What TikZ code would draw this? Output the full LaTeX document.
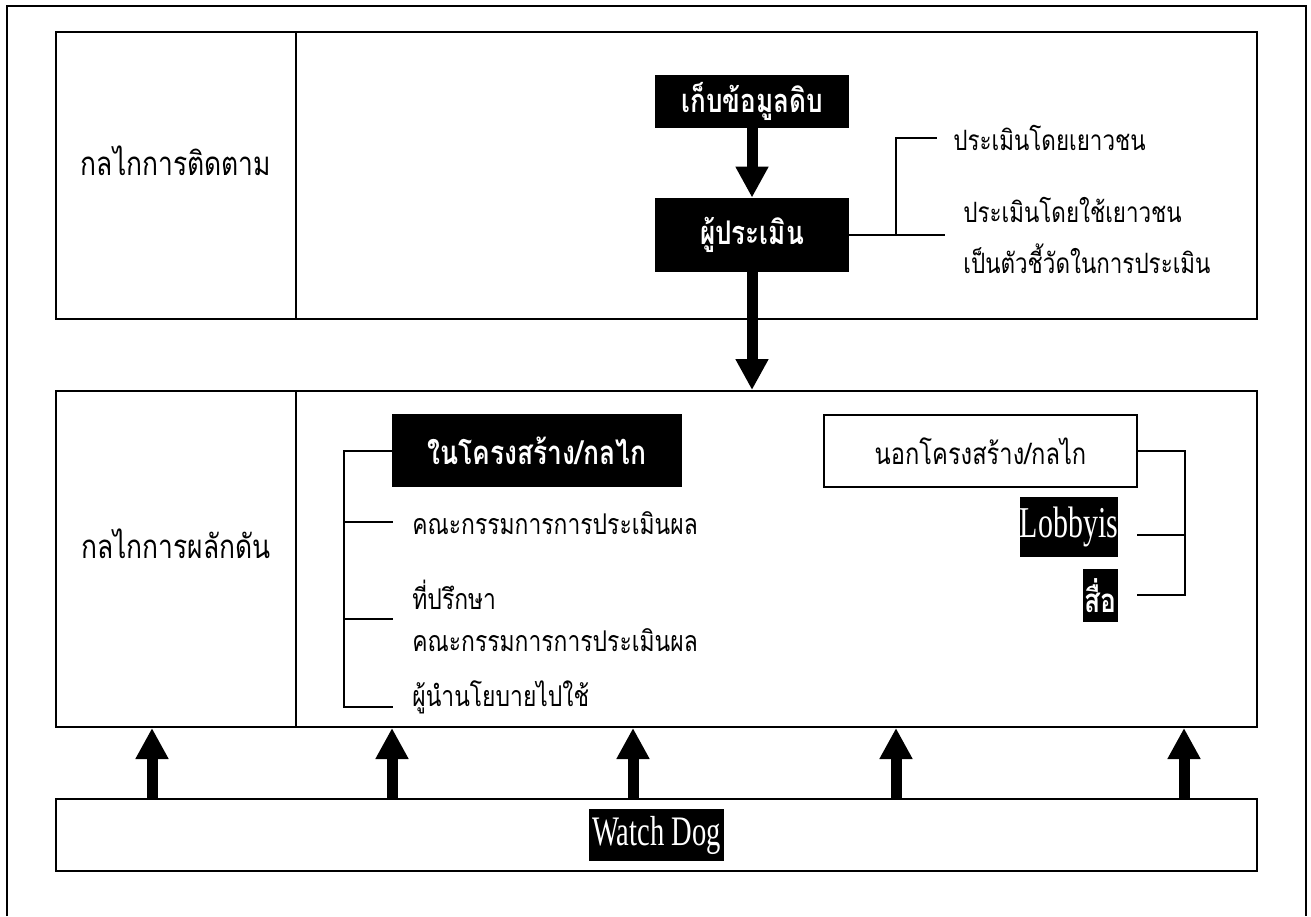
\documentclass[tikz,border=0pt]{standalone}
\usepackage{fontspec}
\setmainfont{Liberation Serif}
\newfontfamily\thai[Script=Thai,FakeStretch=0.8]{Loma}
\newfontfamily\latc[FakeStretch=0.68]{Liberation Serif}
\usetikzlibrary{arrows.meta,fit}
\begin{document}
\begin{tikzpicture}[x=0.5pt,y=-0.5pt,
  panel/.style={draw, line width=1pt, inner sep=0pt},
  sidelabel/.style={font=\thai\fontsize{16.5}{20}\selectfont},
  blackbox/.style={fill=black, text=white, inner sep=0pt, font=\thai\bfseries\fontsize{16.3}{20}\selectfont},
  whitebox/.style={draw, line width=1pt, inner sep=0pt, font=\thai\fontsize{14.8}{18}\selectfont},
  hl/.style={fill=black, text=white, inner sep=0pt},
  item/.style={anchor=west, inner sep=0pt, align=left, font=\thai\fontsize{14.3}{18}\selectfont},
  conn/.style={line width=1pt},
  bigarrow/.style={line width=5.5pt, -{Triangle[width=15.5pt,length=15.5pt]}}
]
\useasboundingbox (0,0) rectangle (1311,916);
% outer frame
\draw[line width=1pt] (7,916) -- (7,6) -- (1306,6) -- (1306,916);

% top panel
\node[panel, sidelabel, fit={(56,32)(296,319)}] (topL) {กลไกการติดตาม};
\node[panel, fit={(296,32)(1257,319)}] (topR) {};
% middle panel
\node[panel, sidelabel, fit={(56,391)(296,727)}] (midL) {กลไกการผลักดัน};
\node[panel, fit={(296,391)(1257,727)}] (midR) {};
% watch dog panel
\node[panel, fit={(56,799)(1257,871)}] (wd) {};
\node[hl, minimum width=67.5pt, minimum height=26pt, font=\latc\fontsize{21}{24}\selectfont] (wdt) at (656.5,835) {Watch Dog};

% monitoring flow
\node[blackbox, minimum width=97pt, minimum height=26.5pt] (b1) at (752,101.5) {เก็บข้อมูลดิบ};
\node[blackbox, minimum width=97pt, minimum height=37pt] (b2) at (752,235) {ผู้ประเมิน};
\draw[bigarrow] (b1.south) -- (b2.north);
\draw[bigarrow] (b2.south) -- (b2.south |- midR.north);

\node[item, font=\thai\fontsize{14}{18}\selectfont] (r1) at (953,138) {ประเมินโดยเยาวชน};
\node[item, font=\thai\fontsize{14}{25.5}\selectfont] (r2) at (963,235) {ประเมินโดยใช้เยาวชน\\เป็นตัวชี้วัดในการประเมิน};
\coordinate (rj) at (896,235);
\coordinate (rt) at (896,138);
\coordinate (r1e) at (937,138);
\coordinate (r2e) at (945,235);
\draw[conn] (b2.east) -- (r2e);
\draw[conn] (rj) -- (rt) -- (r1e);

% inside structure
\node[blackbox, minimum width=145pt, minimum height=36.5pt, font=\thai\bfseries\fontsize{16.5}{20}\selectfont] (inb) at (537,450.5) {ในโครงสร้าง/กลไก};
\node[item] (i1) at (412,523) {คณะกรรมการการประเมินผล};
\node[item, font=\thai\fontsize{14.3}{21}\selectfont] (i2) at (412,616) {ที่ปรึกษา\\คณะกรรมการการประเมินผล};
\node[item] (i3) at (412,697) {ผู้นำนโยบายไปใช้};
\coordinate (L0) at (344,450.5);
\coordinate (L3) at (344,707);
\coordinate (L1) at (344,522);
\coordinate (L2) at (344,619);
\coordinate (E1) at (393,522);
\coordinate (E2) at (393,619);
\coordinate (E3) at (393,707);
\draw[conn] (inb.west) -- (L0) -- (L3) -- (E3);
\draw[conn] (L1) -- (E1);
\draw[conn] (L2) -- (E2);

% outside structure
\node[whitebox, minimum width=156.5pt, minimum height=36pt] (outb) at (980.5,451) {นอกโครงสร้าง/กลไก};
\node[hl, minimum width=49pt, minimum height=30pt, font=\latc\fontsize{22}{24}\selectfont] (lob) at (1069,527) {Lobbyis};
\node[hl, minimum width=17.5pt, minimum height=26.5pt, font=\thai\bfseries\fontsize{16.5}{20}\selectfont] (sue) at (1100.5,595.5) {สื่อ};
\coordinate (R0) at (1185,451);
\coordinate (R1) at (1185,535);
\coordinate (R2) at (1185,595);
\coordinate (F1) at (1137,535);
\coordinate (F2) at (1137,595);
\draw[conn] (outb.east) -- (R0) -- (R2) -- (F2);
\draw[conn] (R1) -- (F1);

% watch dog arrows
\foreach \x/\n in {152/a1,392/a2,633/a3,896/a4,1184/a5}{
  \coordinate (\n) at (\x,0);
  \draw[bigarrow] (wd.north -| \n) -- (midR.south -| \n);
}
\end{tikzpicture}
\end{document}
